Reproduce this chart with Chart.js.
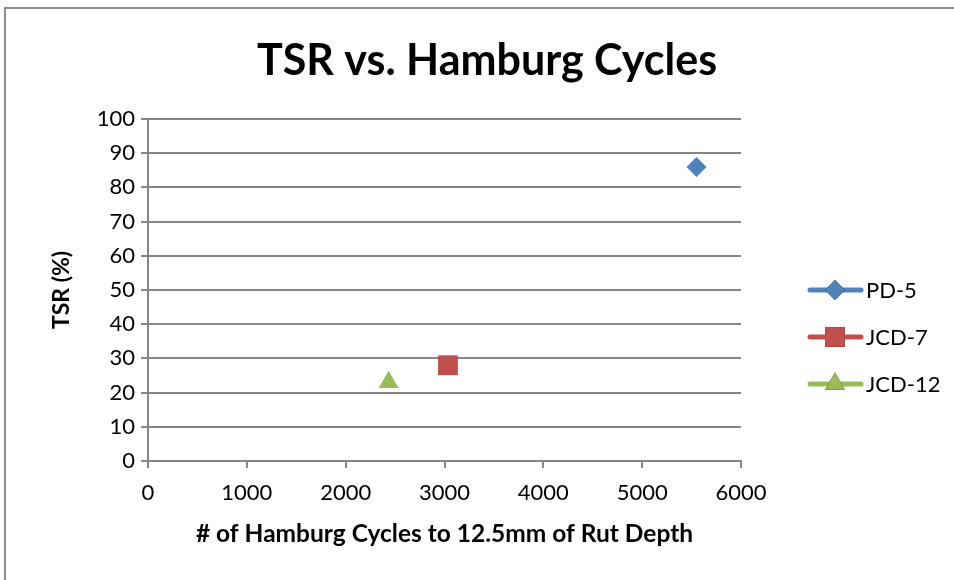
<!DOCTYPE html>
<html>
<head>
<meta charset="utf-8">
<script src="https://cdn.jsdelivr.net/npm/chart.js@4/dist/chart.umd.min.js"></script>
<style>
  body { margin: 0; background: #fff; }
  #wrap { width: 954px; height: 580px; position: relative; }
</style>
</head>
<body>
<div id="wrap"><canvas id="grafico" width="954" height="580"></canvas></div>
<script>
// series (x = Hamburg cycles, y = TSR %)
const seriesNames = ['PD-5', 'JCD-7', 'JCD-12'];
const ciclos = [5550, 3035, 2435];
const tsr = [86, 28, 23];
const cores = ['#4F81BD', '#C0504D', '#9BBB59'];
const marcadores = ['rectRot', 'rect', 'triangle'];
const raios = [10, 14, 11.5];
const titulo = 'TSR vs. Hamburg Cycles';

const fonte = 'Lato, "Open Sans", sans-serif';

// moldura cinza, titulo e legenda desenhada a mao (linha + marcador)
const extras = {
    id: 'extras',
    beforeDraw(chart) {
        const ctx = chart.ctx;
        ctx.save();
        ctx.strokeStyle = '#8c8c8c';
        ctx.lineWidth = 2;
        ctx.strokeRect(5, 8, 1000, 1000);
        ctx.fillStyle = '#000';
        ctx.font = 'bold 43px ' + fonte;
        ctx.textAlign = 'center';
        ctx.textBaseline = 'middle';
        ctx.fillText(titulo, 487, 61);
        ctx.restore();
    },
    afterDraw(chart) {
        const ctx = chart.ctx;
        ctx.save();
        chart.data.datasets.forEach(function(ds, i) {
            const y = 290 + i * 47;
            ctx.strokeStyle = ds.borderColor;
            ctx.lineWidth = 5;
            ctx.lineCap = 'round';
            ctx.beginPath();
            ctx.moveTo(810, y);
            ctx.lineTo(861, y);
            ctx.stroke();
            Chart.helpers.drawPoint(ctx, {
                pointStyle: ds.pointStyle,
                radius: ds.pointRadius,
                borderWidth: 0
            }, 835, y);
            ctx.fillStyle = ds.backgroundColor;
            ctx.fill();
            ctx.fillStyle = '#000';
            ctx.font = '22px ' + fonte;
            ctx.textBaseline = 'middle';
            ctx.fillText(ds.label, 866, y + 1);
        });
        ctx.restore();
    }
};

new Chart(document.getElementById('grafico').getContext('2d'), {
    type: 'scatter',
    data: {
        datasets: seriesNames.map(function(nome, i) {
            return {
                label: nome,
                data: [{ x: ciclos[i], y: tsr[i] }],
                backgroundColor: cores[i],
                borderColor: cores[i],
                pointStyle: marcadores[i],
                pointRadius: raios[i],
                pointHoverRadius: raios[i],
                pointBorderWidth: 0
            };
        })
    },
    options: {
        responsive: false,
        animation: false,
        layout: { padding: { left: 40, right: 213, bottom: 30, top: 119 } },
        plugins: {
            legend: { display: false },
            tooltip: { enabled: false },
            title: { display: false }
        },
        scales: {
            x: {
                type: 'linear',
                min: 0, max: 6000,
                ticks: {
                    stepSize: 1000, color: '#000', padding: 12,
                    font: { family: fonte, size: 22 },
                    callback: function(v) { return String(v); }
                },
                grid: { drawOnChartArea: false, color: '#868686', lineWidth: 2, tickLength: 7 },
                border: { color: '#868686', width: 2 },
                title: {
                    display: true,
                    text: '# of Hamburg Cycles to 12.5mm of Rut Depth',
                    color: '#000',
                    font: { family: fonte, size: 24.5, weight: 'bold', lineHeight: 1.2 },
                    padding: { top: 0, bottom: 1 }
                },
                afterFit(scale) { scale.height = 89; }
            },
            y: {
                type: 'linear',
                min: 0, max: 100,
                ticks: { stepSize: 10, color: '#000', font: { family: fonte, size: 22 }, padding: 6 },
                grid: { color: '#868686', lineWidth: 2, tickLength: 7 },
                border: { color: '#868686', width: 2 },
                title: {
                    display: true,
                    text: 'TSR (%)',
                    color: '#000',
                    font: { family: fonte, size: 23, weight: 'bold', lineHeight: 1.2 },
                    padding: { top: 8, bottom: 0 }
                },
                afterFit(scale) { scale.width = 108; }
            }
        }
    },
    plugins: [extras]
});
</script>
</body>
</html>
